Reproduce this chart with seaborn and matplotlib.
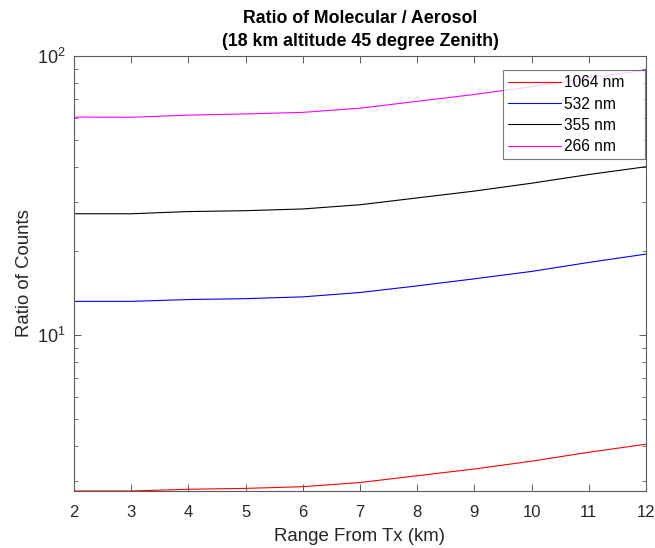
import numpy as np
import pandas as pd
import matplotlib
matplotlib.use("Agg")
import matplotlib.pyplot as plt
import seaborn as sns
from matplotlib.ticker import LogLocator, NullFormatter, FixedLocator

range_km = [2, 3, 4, 5, 6, 7, 8, 9, 10, 11, 12]
ratio_1064 = [2.76, 2.76, 2.80, 2.82, 2.86, 2.96, 3.13, 3.31, 3.53, 3.80, 4.06]
ratio_532 = [13.2, 13.2, 13.4, 13.5, 13.7, 14.2, 15.0, 15.9, 16.9, 18.2, 19.5]
ratio_355 = [27.2, 27.2, 27.7, 27.9, 28.3, 29.3, 31.0, 32.8, 35.0, 37.6, 40.1]
ratio_266 = [60.4, 60.3, 61.4, 62.0, 62.8, 65.0, 68.8, 72.8, 77.6, 83.5, 89.0]
labels = ["1064 nm", "532 nm", "355 nm", "266 nm"]
colors = ["#ff0000", "#0000ff", "#000000", "#ff00ff"]

df = pd.concat([
    pd.DataFrame({"Range": range_km, "Ratio": vals, "Series": lab})
    for vals, lab in zip([ratio_1064, ratio_532, ratio_355, ratio_266], labels)
])

sns.set_style("white")
plt.rcParams["font.family"] = ["Liberation Sans", "DejaVu Sans"]
plt.rcParams["mathtext.fontset"] = "custom"
plt.rcParams["mathtext.rm"] = "Liberation Sans"
plt.rcParams["mathtext.it"] = "Liberation Sans"

fig = plt.figure(figsize=(6.55, 5.48), dpi=100)
ax = fig.add_axes([74/655, 1 - 491/548, (646-74)/655, (491-56)/548])

sns.lineplot(data=df, x="Range", y="Ratio", hue="Series", hue_order=labels,
             palette=colors, linewidth=0.8, ax=ax, legend=True)
ax.set_yscale("log")
ax.set_xlim(2, 12)
ax.set_ylim(min(ratio_1064), 100)
ax.xaxis.set_major_locator(FixedLocator(range_km))
ax.yaxis.set_major_locator(LogLocator(base=10, numticks=10))
ax.yaxis.set_minor_locator(LogLocator(base=10, subs=np.arange(2, 10), numticks=10))
ax.yaxis.set_minor_formatter(NullFormatter())

edge = "#5a5a5a"
for s in ax.spines.values():
    s.set_color(edge)
    s.set_linewidth(0.8)
ax.tick_params(which="both", direction="in", top=True, right=True, bottom=True,
               left=True, color=edge, labelcolor="#262626")
ax.tick_params(which="major", length=5, width=0.7)
ax.tick_params(which="minor", length=3, width=0.6)
ax.tick_params(axis="x", labelsize=12, pad=10)
ax.tick_params(axis="y", labelsize=13, pad=6)

ax.set_xlabel("Range From Tx (km)", fontsize=13.4, color="#262626", labelpad=6)
ax.set_ylabel("Ratio of Counts", fontsize=13.4, color="#262626", labelpad=3)
ax.set_title("Ratio of Molecular / Aerosol\n(18 km altitude 45 degree Zenith)",
             fontsize=12.8, fontweight="bold", color="black", pad=7.5, linespacing=1.45)

leg = ax.legend(loc="upper left", bbox_to_anchor=(0.75, 0.761, 0.248, 0.207),
                mode="expand", fontsize=11.2,
                frameon=True, fancybox=False, edgecolor="#555555",
                handlelength=3.4, handletextpad=0.2, borderpad=0.35,
                labelspacing=0.4, borderaxespad=0.0)
leg.get_frame().set_linewidth(0.8)
for text in leg.get_texts():
    text.set_color("black")
for line in leg.get_lines():
    line.set_linewidth(0.8)

fig.savefig("out.png", dpi=100)
